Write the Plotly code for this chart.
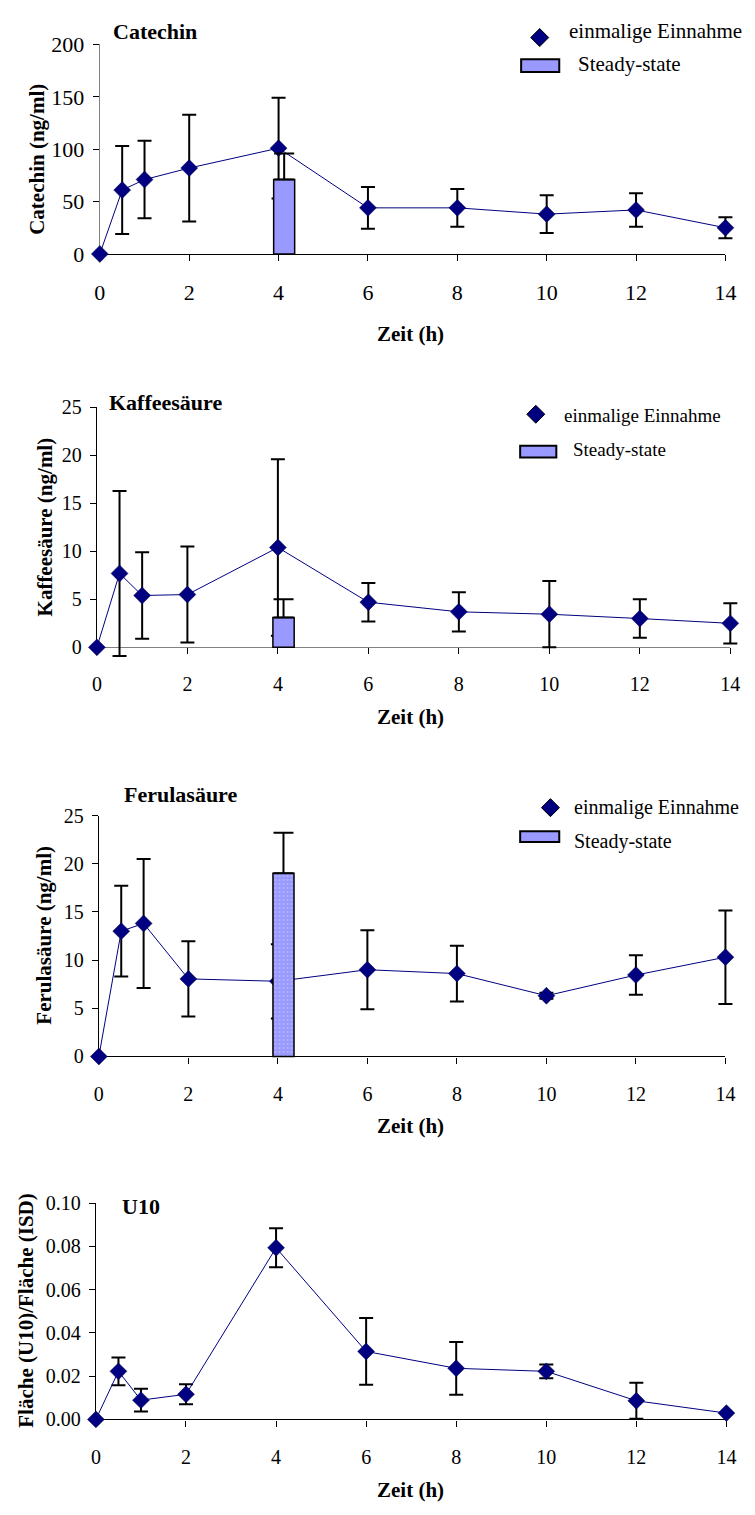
import plotly.graph_objects as go

# ---------------- data ----------------
time_h = [0, 0.5, 1, 2, 4, 6, 8, 10, 12, 14]
ss_time = [4]

catechin_mean = [0, 61, 71, 82, 101, 44, 44, 38, 42, 25]
catechin_sd = [None, 42, 37, 51, 48, 20, 18, 18, 16, 10]
catechin_ss_mean = [71]
catechin_ss_sd = [25]

kaffee_mean = [0, 7.7, 5.4, 5.5, 10.4, 4.7, 3.7, 3.45, 3.0, 2.5]
kaffee_sd = [None, 8.6, 4.5, 5.0, 9.2, 2.0, 2.05, 3.45, 2.0, 2.1]
kaffee_ss_mean = [3.1]
kaffee_ss_sd = [1.9]

ferula_mean = [0, 13.0, 13.8, 8.05, 7.8, 9.0, 8.6, 6.3, 8.45, 10.3]
ferula_sd = [None, 4.7, 6.7, 3.9, 3.85, 4.1, 2.9, 0.3, 2.05, 4.85]
ferula_ss_mean = [19.0]
ferula_ss_sd = [4.2]

u10_mean = [0, 0.0222, 0.0089, 0.0116, 0.0793, 0.0314, 0.0236, 0.0222, 0.0086, 0.0029]
u10_sd = [None, 0.0064, 0.0053, 0.0046, 0.0090, 0.0154, 0.0122, 0.0032, 0.0083, None]

x_ticks = [0, 2, 4, 6, 8, 10, 12, 14]
x_max = 14

# ---------------- layout helpers ----------------
W, H = 755, 1515
FONT = "Liberation Serif, Times New Roman, serif"
NAVY = "#000080"
BARC = "#9999FF"


def px(x):
    return x / W


def py(y):
    return 1 - y / H


panels = [
    dict(mean=catechin_mean, sd=catechin_sd, ss=catechin_ss_mean, ss_sd=catechin_ss_sd,
         title="Catechin", ylabel="Catechin (ng/ml)", yrange=[0, 200], dtick=50, fmt="d",
         left=96, right=736, top=33, bottom=246, tickfs=22,
         title_xy=(107, 20), ylab_xy=(31, 150), xlab_y=327,
         xline="#000000", yline="#808080", pattern=False,
         legend=dict(dia=(546, 26), t1=(574, 19), rect=(527, 566, 48, 61), t2=(583, 53), fs=21)),
    dict(mean=kaffee_mean, sd=kaffee_sd, ss=kaffee_ss_mean, ss_sd=kaffee_ss_sd,
         title="Kaffeesäure", ylabel="Kaffeesäure (ng/ml)", yrange=[0, 25], dtick=5, fmt="d",
         left=93, right=741, top=402, bottom=646, tickfs=20,
         title_xy=(103, 397), ylab_xy=(40, 524), xlab_y=717,
         xline="#808080", yline="#000000", pattern=False,
         legend=dict(dia=(542, 409), t1=(569, 410), rect=(526, 563, 441, 453), t2=(578, 445), fs=19)),
    dict(mean=ferula_mean, sd=ferula_sd, ss=ferula_ss_mean, ss_sd=ferula_ss_sd,
         title="Ferulasäure", ylabel="Ferulasäure (ng/ml)", yrange=[0, 25], dtick=5, fmt="d",
         left=95, right=736, top=817, bottom=1062, tickfs=20,
         title_xy=(119, 796), ylab_xy=(38, 939), xlab_y=1133,
         xline="#000000", yline="#000000", pattern=True,
         legend=dict(dia=(557, 809), t1=(579, 809), rect=(526, 566, 833, 844), t2=(579, 843), fs=20)),
    dict(mean=u10_mean, sd=u10_sd, ss=None, ss_sd=None,
         title="U10", ylabel="Fläche (U10)/Fläche (ISD)", yrange=[0, 0.10], dtick=0.02, fmt=".2f",
         left=92, right=737, top=1211, bottom=1431, tickfs=20,
         title_xy=(117, 1215), ylab_xy=(21, 1321), xlab_y=1503,
         xline="#000000", yline="#000000", pattern=False,
         legend=None),
]

fig = go.Figure()
layout = dict(
    width=W, height=H, margin=dict(l=0, r=0, t=0, b=0),
    paper_bgcolor="white", plot_bgcolor="rgba(0,0,0,0)", showlegend=False,
    font=dict(family=FONT, color="black"),
)
annotations = []
shapes = []


def ax_name(letter, k):
    return f"{letter}axis" if k == 1 else f"{letter}axis{k}"


def ax_id(letter, k):
    return letter if k == 1 else f"{letter}{k}"


for i, p in enumerate(panels):
    n = i + 1
    L, R, T, B = p["left"], p["right"], p["top"], p["bottom"]
    ymax = p["yrange"][1]

    # visible axes (ticks, lines, labels)
    layout[ax_name("x", n)] = dict(
        domain=[px(L), px(R)], anchor=ax_id("y", n), range=[0, x_max],
        tickmode="array", tickvals=x_ticks, ticks="outside", ticklen=6, tickwidth=1,
        tickcolor="black", showline=True, linecolor=p["xline"], linewidth=1.3,
        showgrid=False, zeroline=False, tickfont=dict(size=p["tickfs"], family=FONT),
        ticklabelstandoff=13, fixedrange=True,
    )
    layout[ax_name("y", n)] = dict(
        domain=[py(B), py(T)], anchor=ax_id("x", n), range=p["yrange"],
        dtick=p["dtick"], tick0=0, tickformat=p["fmt"], ticks="outside", ticklen=6,
        tickwidth=1, tickcolor="black", showline=True, linecolor=p["yline"], linewidth=1.2,
        showgrid=False, zeroline=False, tickfont=dict(size=p["tickfs"], family=FONT),
        ticklabelstandoff=4, fixedrange=True,
    )
    # an empty trace so that the axes subplot is created and drawn
    fig.add_trace(go.Scatter(x=[None], y=[None], mode="markers", xaxis=ax_id("x", n),
                             yaxis=ax_id("y", n), hoverinfo="skip", showlegend=False))

    # hidden data axes: same data->pixel mapping, but a larger box so nothing is clipped
    sx = (R - L) / x_max
    sy = (B - T) / ymax
    eL, eR = 30, min(14, W - R)
    eT, eB = 30, 30
    dn = n + 4
    layout[ax_name("x", dn)] = dict(
        domain=[px(L - eL), px(R + eR)], anchor=ax_id("y", dn),
        range=[-eL / sx, x_max + eR / sx], visible=False, fixedrange=True)
    layout[ax_name("y", dn)] = dict(
        domain=[py(B + eB), py(T - eT)], anchor=ax_id("x", dn),
        range=[-eB / sy, ymax + eT / sy], visible=False, fixedrange=True)

    fig.add_trace(go.Scatter(
        x=time_h, y=p["mean"], mode="lines+markers", xaxis=ax_id("x", dn), yaxis=ax_id("y", dn),
        name="einmalige Einnahme",
        line=dict(color=NAVY, width=1),
        marker=dict(symbol="diamond", size=13, color=NAVY, line=dict(color="#000040", width=0.5)),
        error_y=dict(type="data", array=p["sd"], visible=True, color="black", thickness=2, width=7),
        cliponaxis=False,
    ))

    if p["ss"] is not None:
        bn = n + 8
        layout[ax_name("x", bn)] = dict(overlaying=ax_id("x", dn),
                                        range=[-eL / sx, x_max + eR / sx], visible=False, fixedrange=True)
        layout[ax_name("y", bn)] = dict(overlaying=ax_id("y", dn),
                                        range=[-eB / sy, ymax + eT / sy], visible=False, fixedrange=True)
        marker = dict(color=BARC, line=dict(color="black", width=1.5))
        if p["pattern"]:
            marker["pattern"] = dict(shape=".", fgcolor="#D8D8FF", bgcolor=BARC, size=4, solidity=0.2)
        fig.add_trace(go.Bar(
            x=ss_time, y=p["ss"], xaxis=ax_id("x", bn), yaxis=ax_id("y", bn), name="Steady-state",
            width=0.47, offset=-0.11, marker=marker,
            error_y=dict(type="data", symmetric=False, array=p["ss_sd"], arrayminus=[0],
                         visible=True, color="black", thickness=2, width=10),
        ))

    # title
    tx, ty = p["title_xy"]
    annotations.append(dict(text=f"<b>{p['title']}</b>", x=px(tx), y=py(ty), xref="paper", yref="paper",
                            xanchor="left", yanchor="middle", showarrow=False,
                            font=dict(size=22, family=FONT)))
    # y label
    lx, ly = p["ylab_xy"]
    annotations.append(dict(text=f"<b>{p['ylabel']}</b>", x=px(lx), y=py(ly), xref="paper", yref="paper",
                            xanchor="center", yanchor="middle", showarrow=False, textangle=-90,
                            font=dict(size=21, family=FONT)))
    # x label
    annotations.append(dict(text="<b>Zeit (h)</b>", x=px(414), y=py(p["xlab_y"]), xref="paper", yref="paper",
                            xanchor="center", yanchor="middle", showarrow=False,
                            font=dict(size=21, family=FONT)))

    lg = p["legend"]
    if lg:
        dx, dy = lg["dia"]
        shapes.append(dict(type="path", xref="paper", yref="paper", xsizemode="pixel", ysizemode="pixel",
                           xanchor=px(dx), yanchor=py(dy), path="M0,9 L9,0 L0,-9 L-9,0 Z",
                           fillcolor=NAVY, line=dict(color="black", width=1)))
        x0, x1, y0, y1 = lg["rect"]
        shapes.append(dict(type="rect", xref="paper", yref="paper", x0=px(x0), x1=px(x1),
                           y0=py(y1), y1=py(y0), fillcolor=BARC, line=dict(color="black", width=2)))
        t1x, t1y = lg["t1"]
        annotations.append(dict(text="einmalige Einnahme", x=px(t1x), y=py(t1y), xref="paper", yref="paper",
                                xanchor="left", yanchor="middle", showarrow=False,
                                font=dict(size=lg["fs"], family=FONT)))
        t2x, t2y = lg["t2"]
        annotations.append(dict(text="Steady-state", x=px(t2x), y=py(t2y), xref="paper", yref="paper",
                                xanchor="left", yanchor="middle", showarrow=False,
                                font=dict(size=lg["fs"], family=FONT)))

layout["annotations"] = annotations
layout["shapes"] = shapes
fig.update_layout(**layout)
fig.write_html("out.html")
